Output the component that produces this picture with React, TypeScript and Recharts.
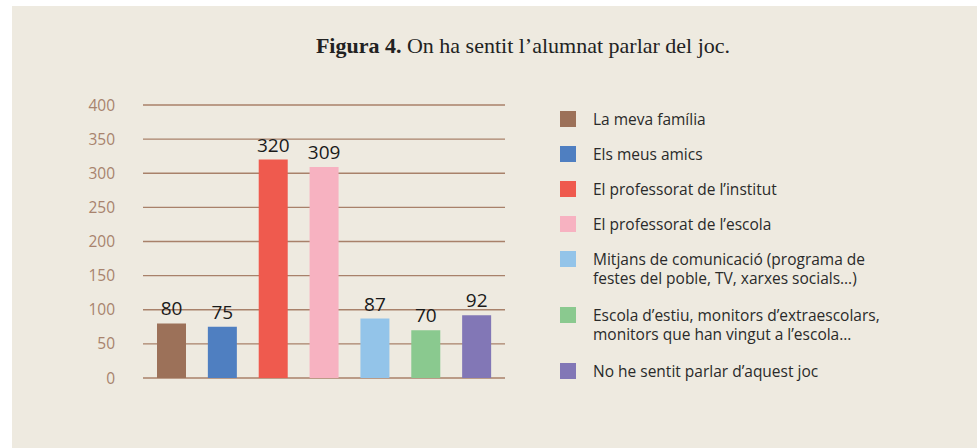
import { Bar, BarChart, CartesianGrid, Cell, LabelList, XAxis, YAxis } from "recharts";

const categories = [
  "La meva família",
  "Els meus amics",
  "El professorat de l’institut",
  "El professorat de l’escola",
  "Mitjans de comunicació (programa de\nfestes del poble, TV, xarxes socials…)",
  "Escola d’estiu, monitors d’extraescolars,\nmonitors que han vingut a l’escola…",
  "No he sentit parlar d’aquest joc",
];
const values = [80, 75, 320, 309, 87, 70, 92];
const colors = ["#9c7159", "#4f7fc1", "#ef5a4e", "#f7b2c1", "#93c4e9", "#8ac98f", "#8277b6"];
const yTicks = [0, 50, 100, 150, 200, 250, 300, 350, 400];

const data = categories.map((name, i) => ({ name, value: values[i] }));

const sans = "'Open Sans', Lato, sans-serif";

function LegendBox() {
  return (
    <div style={{ fontFamily: sans, fontSize: 15.5, color: "#2a2a2a" }}>
      {categories.map((c, i) => {
        const lines = c.split("\n");
        return (
          <div key={c} style={{ display: "flex", alignItems: "flex-start", marginBottom: lines.length > 1 ? 18 : 16 }}>
            <div style={{ width: 16, height: 16, background: colors[i], marginTop: 1, flexShrink: 0 }} />
            <div style={{ marginLeft: 17, lineHeight: "19px", whiteSpace: "pre" }}>{c}</div>
          </div>
        );
      })}
    </div>
  );
}

export default function App() {
  return (
    <div style={{ position: "absolute", left: 0, top: 0, width: 978, height: 448, background: "#fff" }}>
      <div style={{ position: "absolute", left: 12, top: 6, width: 965, height: 442, background: "#eeeae0" }} />
      <div
        style={{
          position: "absolute",
          left: 0,
          width: 978,
          top: 33,
          textAlign: "center",
          fontFamily: "'Liberation Serif', 'DejaVu Serif', serif",
          fontSize: 22,
          color: "#222",
          paddingLeft: 68,
          boxSizing: "border-box",
        }}
      >
        <b>Figura 4.</b> On ha sentit l’alumnat parlar del joc.
      </div>
      <div style={{ position: "absolute", left: 0, top: 0 }}>
        <BarChart width={978} height={448} data={data} margin={{ top: 105, right: 473, bottom: 70, left: 83 }}>
          <CartesianGrid vertical={false} stroke="#a8816a" strokeWidth={1.3} />
          <XAxis dataKey="name" hide padding={{ left: 3, right: 3 }} />
          <YAxis
            width={60}
            domain={[0, 400]}
            ticks={yTicks}
            axisLine={false}
            tickLine={false}
            tickMargin={22}
            tick={{ fill: "#a8836d", fontSize: 15.5, fontFamily: sans }}
          />
          <Bar dataKey="value" barSize={29} isAnimationActive={false}>
            {data.map((d, i) => (
              <Cell key={d.name} fill={colors[i]} />
            ))}
            <LabelList dataKey="value" position="top" offset={8} fill="#1a1a1a" fontSize={19} fontFamily={sans} />
          </Bar>
        </BarChart>
      </div>
      <div style={{ position: "absolute", left: 560, top: 110, width: 400 }}>
        <LegendBox />
      </div>
    </div>
  );
}
